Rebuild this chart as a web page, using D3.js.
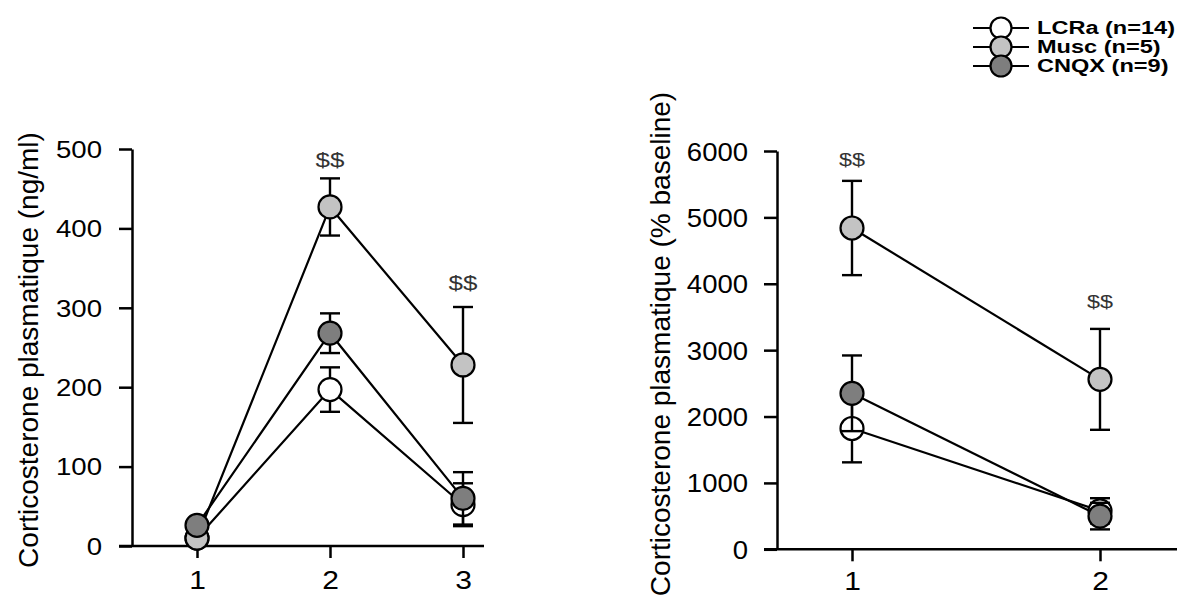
<!DOCTYPE html>
<html>
<head>
<meta charset="utf-8">
<script src="https://cdn.jsdelivr.net/npm/d3@7"></script>
<style>
  html, body { margin: 0; padding: 0; background: #ffffff; }
  svg { display: block; }
</style>
</head>
<body>
<svg id="chart" width="1184" height="598"></svg>
<script>
// ---------------- DATA ----------------
const seriesNames = ["LCRa (n=14)", "Musc (n=5)", "CNQX (n=9)"];
const seriesFills = ["#ffffff", "#c3c3c3", "#7e7e7e"];

// Left panel (ng/ml)
const leftCategories = [1, 2, 3];
const leftYTicks = [0, 100, 200, 300, 400, 500];
const leftLCRa = [10, 197, 52];
const leftLCRaErr = [4, 28, 27];
const leftMusc = [10, 427, 228];
const leftMuscErr = [4, 36, 73];
const leftCNQX = [26, 268, 60];
const leftCNQXErr = [5, 25, 33];
const leftSigX = [2, 3];
const leftSigY = [486, 331];

// Right panel (% baseline)
const rightCategories = [1, 2];
const rightYTicks = [0, 1000, 2000, 3000, 4000, 5000, 6000];
const rightLCRa = [1820, 580];
const rightLCRaErr = [510, 190];
const rightMusc = [4840, 2560];
const rightMuscErr = [710, 760];
const rightCNQX = [2350, 500];
const rightCNQXErr = [570, 200];
const rightSigX = [1, 2];
const rightSigY = [5865, 3725];

const leftTitle = "Corticosterone plasmatique (ng/ml)";
const rightTitle = "Corticosterone plasmatique (% baseline)";
const sigLabel = "$$";

// ---------------- DRAW ----------------
const svg = d3.select("#chart");
const FONT = "'Liberation Sans', Arial, Helvetica, sans-serif";
const SX = 1.2; // horizontal text stretch of the reference

function panel(cfg) {
  const g = svg.append("g");
  const x = d3.scaleLinear().domain(cfg.xDomain).range(cfg.xRange);
  const y = d3.scaleLinear().domain(cfg.yDomain).range(cfg.yRange);
  const axisX = cfg.axisX;
  const baseY = y(0);

  // Y axis
  const ya = g.append("g")
    .attr("transform", `translate(${axisX},0)`)
    .call(d3.axisLeft(y).tickValues(cfg.yTicks).tickSize(13).tickSizeOuter(0).tickFormat(d3.format("d")));
  ya.selectAll("path, line").attr("stroke", "#000").attr("stroke-width", 2.5);
  ya.selectAll("text")
    .attr("font-family", FONT).attr("font-size", cfg.yFont).attr("fill", "#000")
    .attr("x", -cfg.yLabelGap / cfg.ySX).attr("dy", "0.36em")
    .attr("transform", `scale(${cfg.ySX},1)`);

  // X axis
  const xa = g.append("g")
    .attr("transform", `translate(0,${baseY})`)
    .call(d3.axisBottom(x).tickValues(cfg.categories).tickSize(12).tickSizeOuter(0).tickFormat(d3.format("d")));
  xa.select(".domain").remove();
  xa.selectAll("line").attr("stroke", "#000").attr("stroke-width", 2.5);
  xa.selectAll("text")
    .attr("font-family", FONT).attr("font-size", cfg.xFont).attr("fill", "#000")
    .attr("y", cfg.xLabelBase).attr("dy", 0)
    .attr("transform", `scale(${SX},1)`);
  g.append("line")
    .attr("x1", axisX - 13).attr("x2", cfg.xAxisEnd)
    .attr("y1", baseY).attr("y2", baseY)
    .attr("stroke", "#000").attr("stroke-width", 2.5);

  // Title
  g.append("text")
    .attr("transform", `translate(${cfg.titleX},${cfg.titleY}) rotate(-90)`)
    .attr("text-anchor", "middle").attr("dominant-baseline", "central")
    .attr("font-family", FONT).attr("font-size", cfg.titleFont).attr("fill", "#000")
    .text(cfg.title);

  // Series: line, error bars, markers (series order)
  const line = d3.line().x(d => x(d.c)).y(d => y(d.v));
  cfg.series.forEach((s, i) => {
    const pts = cfg.categories.map((c, j) => ({ c, v: s.values[j], e: s.errs[j] }));
    const sg = g.append("g");
    sg.append("path").datum(pts).attr("d", line)
      .attr("fill", "none").attr("stroke", "#000").attr("stroke-width", 2.2);
    const eb = sg.selectAll(".eb").data(pts).join("g").attr("class", "eb");
    eb.append("line")
      .attr("x1", d => x(d.c)).attr("x2", d => x(d.c))
      .attr("y1", d => y(d.v - d.e)).attr("y2", d => y(d.v + d.e))
      .attr("stroke", "#000").attr("stroke-width", 2.4);
    [1, -1].forEach(sgn => {
      eb.append("line")
        .attr("x1", d => x(d.c) - 10).attr("x2", d => x(d.c) + 10)
        .attr("y1", d => y(d.v + sgn * d.e)).attr("y2", d => y(d.v + sgn * d.e))
        .attr("stroke", "#000").attr("stroke-width", 2.4);
    });
    sg.selectAll("circle").data(pts).join("circle")
      .attr("cx", d => x(d.c)).attr("cy", d => y(d.v)).attr("r", 11.5)
      .attr("fill", seriesFills[i]).attr("stroke", "#000").attr("stroke-width", 2.2);
  });

  // Significance labels
  cfg.sigX.forEach((sx, k) => {
    g.append("text")
      .attr("transform", `translate(${x(sx)},${y(cfg.sigY[k])}) scale(${1.3},1)`)
      .attr("text-anchor", "middle").attr("dominant-baseline", "central")
      .attr("font-family", FONT).attr("font-size", cfg.sigFont).attr("fill", "#333")
      .text(sigLabel);
  });
}

panel({
  categories: leftCategories,
  xDomain: [1, 3], xRange: [197, 463],
  yDomain: [0, 500], yRange: [546, 149],
  yTicks: leftYTicks,
  axisX: 132, xAxisEnd: 484,
  yFont: 23, ySX: 1.2, yLabelGap: 30,
  xFont: 25, xLabelBase: 43,
  title: leftTitle, titleX: 28, titleY: 350, titleFont: 28,
  series: [
    { values: leftLCRa, errs: leftLCRaErr },
    { values: leftMusc, errs: leftMuscErr },
    { values: leftCNQX, errs: leftCNQXErr }
  ],
  sigX: leftSigX, sigY: leftSigY, sigFont: 20
});

panel({
  categories: rightCategories,
  xDomain: [1, 2], xRange: [852, 1100],
  yDomain: [0, 6000], yRange: [549.3, 151],
  yTicks: rightYTicks,
  axisX: 777, xAxisEnd: 1177,
  yFont: 25, ySX: 1.1, yLabelGap: 29,
  xFont: 25, xLabelBase: 41,
  title: rightTitle, titleX: 660, titleY: 344, titleFont: 28,
  series: [
    { values: rightLCRa, errs: rightLCRaErr },
    { values: rightMusc, errs: rightMuscErr },
    { values: rightCNQX, errs: rightCNQXErr }
  ],
  sigX: rightSigX, sigY: rightSigY, sigFont: 18
});

// Legend
const legendRows = [28, 47, 66];
const lg = svg.append("g");
seriesNames.forEach((name, i) => {
  const ry = legendRows[i];
  lg.append("line").attr("x1", 973).attr("x2", 1029).attr("y1", ry).attr("y2", ry)
    .attr("stroke", "#000").attr("stroke-width", 2.2);
  lg.append("circle").attr("cx", 1001).attr("cy", ry).attr("r", 10.5)
    .attr("fill", seriesFills[i]).attr("stroke", "#000").attr("stroke-width", 2.2);
  lg.append("text")
    .attr("transform", `translate(1037,${ry}) scale(1.24,1)`)
    .attr("dominant-baseline", "central")
    .attr("font-family", FONT).attr("font-weight", "bold").attr("font-size", 19).attr("fill", "#000")
    .text(name);
});
</script>
</body>
</html>
